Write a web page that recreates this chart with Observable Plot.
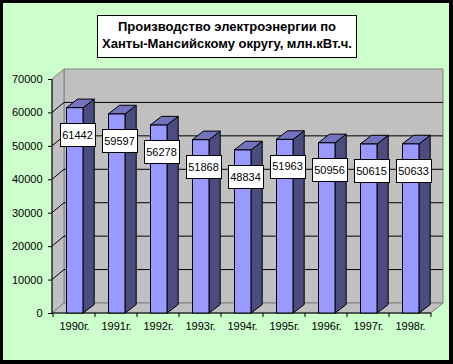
<!DOCTYPE html>
<html>
<head>
<meta charset="utf-8">
<script src="https://cdn.jsdelivr.net/npm/d3@7"></script>
<script src="https://cdn.jsdelivr.net/npm/@observablehq/plot@0.6"></script>
<style>
  html, body { margin: 0; padding: 0; background: #ccffcc; }
  #wrap { position: relative; width: 453px; height: 364px; background: #ccffcc; overflow: hidden; }
  #wrap svg { position: absolute; left: 0; top: 0; }
  #frame { position: absolute; left: 0; top: 0; width: 453px; height: 364px; box-sizing: border-box;
           border-style: solid; border-color: #000; border-width: 3px 4px 4px 3px; pointer-events: none; }
  #title { position: absolute; left: 97px; top: 15px; width: 260px; height: 43px; box-sizing: border-box;
           border: 1px solid #000; background: #fff; text-align: center; padding-top: 2px;
           font: bold 13px "Liberation Sans", Arial, sans-serif; line-height: 17px; color: #000; }
</style>
</head>
<body>
<div id="wrap"></div>
<script>
const titleLines = ["Производство электроэнергии по", "Ханты-Мансийскому округу, млн.кВт.ч."];
const years = ["1990г.", "1991г.", "1992г.", "1993г.", "1994г.", "1995г.", "1996г.", "1997г.", "1998г."];
const production = [61442, 59597, 56278, 51868, 48834, 51963, 50956, 50615, 50633];
const yTicks = [0, 10000, 20000, 30000, 40000, 50000, 60000, 70000];

const data = years.map((year, i) => ({year, value: production[i]}));

const WALL_DX = 12, WALL_DY = -10;
const BAR_DX = 11, BAR_DY = -8.5;
const INSET_L = 13.5, INSET_R = 11.8;
const LABEL_DX = 3, LABEL_DY = 27;
const BOX_W = 35, BOX_H = 23;

function pts(a) { return a.map(p => p[0] + "," + p[1]).join(" "); }

function walls(index, scales) {
  const {x, y} = scales;
  const [x0, x1] = x.range();
  const yb = y(yTicks[0]), yt = y(yTicks[yTicks.length - 1]);
  const g = d3.create("svg:g");
  const poly = (p, fill, stroke) => g.append("polygon").attr("points", pts(p))
      .attr("fill", fill).attr("stroke", stroke).attr("stroke-width", 1);
  poly([[x0 + WALL_DX, yt + WALL_DY], [x1 + WALL_DX, yt + WALL_DY], [x1 + WALL_DX, yb + WALL_DY], [x0 + WALL_DX, yb + WALL_DY]], "#c0c0c0", "#808080");
  poly([[x0, yb], [x0, yt], [x0 + WALL_DX, yt + WALL_DY], [x0 + WALL_DX, yb + WALL_DY]], "#c0c0c0", "#808080");
  poly([[x0, yb], [x1, yb], [x1 + WALL_DX, yb + WALL_DY], [x0 + WALL_DX, yb + WALL_DY]], "#c0c0c0", "#808080");
  for (const t of yTicks) {
    if (t === yTicks[0] || t === yTicks[yTicks.length - 1]) continue;
    const yy = y(t);
    g.append("polyline").attr("points", pts([[x0, yy], [x0 + WALL_DX, yy + WALL_DY], [x1 + WALL_DX, yy + WALL_DY]]))
      .attr("fill", "none").attr("stroke", "#000");
  }
  // axis lines
  g.append("line").attr("x1", x0).attr("x2", x0).attr("y1", yt).attr("y2", yb).attr("stroke", "#000");
  g.append("line").attr("x1", x0).attr("x2", x1).attr("y1", yb).attr("y2", yb).attr("stroke", "#000");
  // category boundary ticks
  const bounds = x.domain().map(d => x(d)).concat([x1]);
  for (const bx of bounds) {
    g.append("line").attr("x1", bx).attr("x2", bx).attr("y1", yb).attr("y2", yb + 4).attr("stroke", "#000");
  }
  return g.node();
}

function barSides(index, scales) {
  const {x, y} = scales;
  const bw = x.bandwidth();
  const g = d3.create("svg:g");
  const y0 = y(0);
  for (const d of data) {
    const xl = x(d.year) + INSET_L, xr = x(d.year) + bw - INSET_R;
    const yt = y(d.value);
    g.append("polygon").attr("points", pts([[xr, yt], [xr + BAR_DX, yt + BAR_DY], [xr + BAR_DX, y0 + BAR_DY], [xr, y0]]))
      .attr("fill", "#4c4c80").attr("stroke", "#000");
    g.append("polygon").attr("points", pts([[xl, yt], [xr, yt], [xr + BAR_DX, yt + BAR_DY], [xl + BAR_DX, yt + BAR_DY]]))
      .attr("fill", "#7373c0").attr("stroke", "#000");
  }
  return g.node();
}

function labelBoxes(index, scales) {
  const {x, y} = scales;
  const bw = x.bandwidth();
  const g = d3.create("svg:g");
  for (const d of data) {
    const cx = x(d.year) + bw / 2 + LABEL_DX, cy = y(d.value) + LABEL_DY;
    g.append("rect").attr("x", Math.round(cx - BOX_W / 2) + 0.5).attr("y", Math.round(cy - BOX_H / 2) + 0.5)
      .attr("width", BOX_W).attr("height", BOX_H).attr("fill", "#fff").attr("stroke", "#000");
  }
  return g.node();
}

const chart = Plot.plot({
  width: 453,
  height: 364,
  marginLeft: 52,
  marginRight: 22,
  marginTop: 79,
  marginBottom: 51,
  style: {background: "transparent", fontFamily: "'Liberation Sans', Arial, sans-serif", fontSize: "11px", color: "#000", overflow: "visible"},
  x: {domain: years, padding: 0, tickSize: 0, tickPadding: 9, label: null, tickFormat: d => d},
  y: {domain: [0, 70000], ticks: yTicks, tickSize: 4, tickPadding: 6, label: null, tickFormat: d => String(d)},
  marks: [
    walls,
    Plot.barY(data, {x: "year", y: "value", fill: "#9999ff", stroke: "#000", insetLeft: INSET_L, insetRight: INSET_R}),
    barSides,
    labelBoxes,
    Plot.text(data, {x: "year", y: "value", text: d => String(d.value), dx: LABEL_DX, dy: LABEL_DY, fill: "#000", fontSize: 11})
  ]
});

const wrap = document.getElementById("wrap");
wrap.appendChild(chart);
const title = document.createElement("div");
title.id = "title";
title.innerHTML = titleLines.join("<br>");
wrap.appendChild(title);
const frame = document.createElement("div");
frame.id = "frame";
wrap.appendChild(frame);
</script>
</body>
</html>
